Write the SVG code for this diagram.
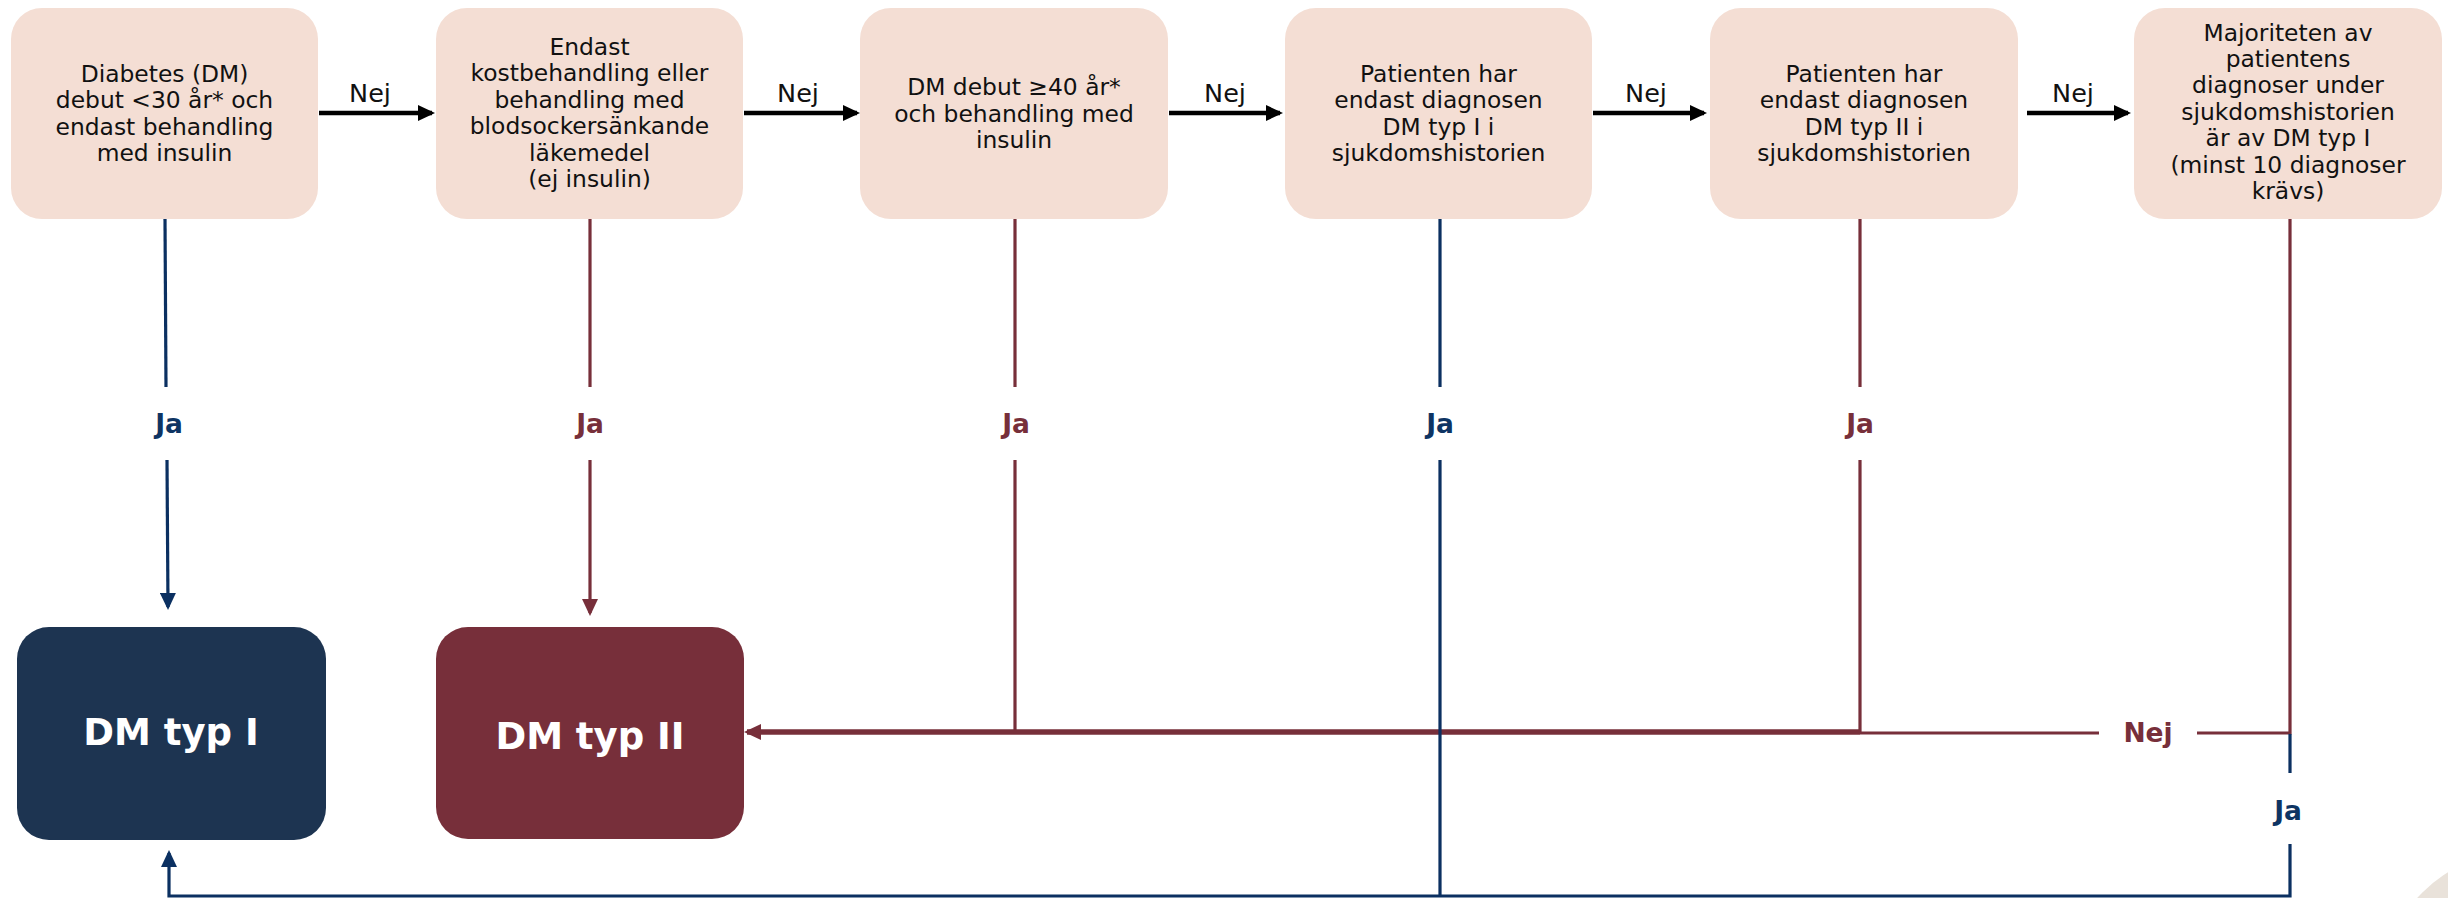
<svg xmlns="http://www.w3.org/2000/svg" width="2448" height="898" viewBox="0 0 2448 898">
<style>
  .q{fill:#F4DED4}
  .qt{font-family:"DejaVu Sans","Verdana",sans-serif;font-size:23.4px;fill:#111;text-anchor:middle}
  .nej{font-family:"DejaVu Sans","Verdana",sans-serif;font-size:25.5px;fill:#111;text-anchor:middle}
  .lbl{font-family:"DejaVu Sans","Verdana",sans-serif;font-size:26.5px;font-weight:bold;text-anchor:middle}
  .big{font-family:"DejaVu Sans","Verdana",sans-serif;font-size:37px;font-weight:bold;fill:#fff;text-anchor:middle}
  .navy{stroke:#0B3061;fill:none;stroke-width:3.2}
  .mar{stroke:#772F3A;fill:none;stroke-width:3.2}
  .blk{stroke:#000;fill:none;stroke-width:4.5}
  .tn{fill:#0E3463}
  .tm{fill:#772F3A}
</style>
<defs>
  <marker id="ab" markerUnits="userSpaceOnUse" markerWidth="18" markerHeight="16" refX="14" refY="8" orient="auto"><path d="M0,0 L17,8 L0,16 z" fill="#000"/></marker>
  <marker id="an" markerUnits="userSpaceOnUse" markerWidth="18" markerHeight="16" refX="14" refY="8" orient="auto"><path d="M0,0 L17,8 L0,16 z" fill="#0B3061"/></marker>
  <marker id="am" markerUnits="userSpaceOnUse" markerWidth="18" markerHeight="16" refX="14" refY="8" orient="auto"><path d="M0,0 L17,8 L0,16 z" fill="#772F3A"/></marker>
</defs>
<rect width="2448" height="898" fill="#fff"/>
<circle cx="2520" cy="990" r="138" fill="#E9E2DA"/>

<g id="connectors">
  <path class="blk" d="M319,113 H432" marker-end="url(#ab)"/>
  <path class="blk" d="M744,113 H857" marker-end="url(#ab)"/>
  <path class="blk" d="M1169,113 H1280" marker-end="url(#ab)"/>
  <path class="blk" d="M1593,113 H1704" marker-end="url(#ab)"/>
  <path class="blk" d="M2027,113 H2128" marker-end="url(#ab)"/>
  <text class="nej" x="370" y="102">Nej</text>
  <text class="nej" x="798" y="102">Nej</text>
  <text class="nej" x="1225" y="102">Nej</text>
  <text class="nej" x="1646" y="102">Nej</text>
  <text class="nej" x="2073" y="102">Nej</text>

  <path class="navy" d="M165,219 L166,387"/>
  <path class="navy" d="M167,460 L168,607" marker-end="url(#an)"/>
  <text class="lbl tn" x="169" y="433">Ja</text>

  <path class="mar" d="M590,219 V387"/>
  <path class="mar" d="M590,460 V613" marker-end="url(#am)"/>
  <text class="lbl tm" x="590" y="433">Ja</text>

  <path class="mar" d="M1015,219 V387"/>
  <path class="mar" d="M1015,460 V732"/>
  <text class="lbl tm" x="1016" y="433">Ja</text>

  <path class="mar" d="M1860,219 V387"/>
  <path class="mar" d="M1860,460 V733"/>
  <text class="lbl tm" x="1860" y="433">Ja</text>

  <path class="mar" d="M2290,219 V733 H2197"/>
  <path class="mar" d="M2099,733 H1860"/>
  <path class="mar" style="stroke-width:5.5" d="M1860,732 H747" marker-end="url(#am)"/>
  <text class="lbl tm" x="2148" y="742">Nej</text>
  <path class="navy" d="M2290,734 V773"/>
  <text class="lbl tn" x="2288" y="820">Ja</text>

  <path class="navy" d="M1440,219 V387"/>
  <path class="navy" d="M1440,460 V896"/>
  <text class="lbl tn" x="1440" y="433">Ja</text>

  <path class="navy" d="M2290,844 V896 H169 V853" marker-end="url(#an)"/>
</g>

<g id="q1">
  <rect class="q" x="11" y="8" width="307" height="211" rx="31"/>
  <text class="qt" x="164.5" y="81.5"><tspan x="164.5">Diabetes (DM)</tspan><tspan x="164.5" dy="26.5">debut &lt;30 år* och</tspan><tspan x="164.5" dy="26.5">endast behandling</tspan><tspan x="164.5" dy="26.5">med insulin</tspan></text>
</g>
<g id="q2">
  <rect class="q" x="436" y="8" width="307" height="211" rx="31"/>
  <text class="qt" x="589.5" y="54.75"><tspan x="589.5">Endast</tspan><tspan x="589.5" dy="26.5">kostbehandling eller</tspan><tspan x="589.5" dy="26.5">behandling med</tspan><tspan x="589.5" dy="26.5">blodsockersänkande</tspan><tspan x="589.5" dy="26.5">läkemedel</tspan><tspan x="589.5" dy="26.5">(ej insulin)</tspan></text>
</g>
<g id="q3">
  <rect class="q" x="860" y="8" width="308" height="211" rx="31"/>
  <text class="qt" x="1014" y="95"><tspan x="1014">DM debut ≥40 år*</tspan><tspan x="1014" dy="26.5">och behandling med</tspan><tspan x="1014" dy="26.5">insulin</tspan></text>
</g>
<g id="q4">
  <rect class="q" x="1285" y="8" width="307" height="211" rx="31"/>
  <text class="qt" x="1438.5" y="81.5"><tspan x="1438.5">Patienten har</tspan><tspan x="1438.5" dy="26.5">endast diagnosen</tspan><tspan x="1438.5" dy="26.5">DM typ I i</tspan><tspan x="1438.5" dy="26.5">sjukdomshistorien</tspan></text>
</g>
<g id="q5">
  <rect class="q" x="1710" y="8" width="308" height="211" rx="31"/>
  <text class="qt" x="1864" y="81.5"><tspan x="1864">Patienten har</tspan><tspan x="1864" dy="26.5">endast diagnosen</tspan><tspan x="1864" dy="26.5">DM typ II i</tspan><tspan x="1864" dy="26.5">sjukdomshistorien</tspan></text>
</g>
<g id="q6">
  <rect class="q" x="2134" y="8" width="308" height="211" rx="31"/>
  <text class="qt" x="2288" y="40.5"><tspan x="2288">Majoriteten av</tspan><tspan x="2288" dy="26.4">patientens</tspan><tspan x="2288" dy="26.4">diagnoser under</tspan><tspan x="2288" dy="26.4">sjukdomshistorien</tspan><tspan x="2288" dy="26.4">är av DM typ I</tspan><tspan x="2288" dy="26.4">(minst 10 diagnoser</tspan><tspan x="2288" dy="26.4">krävs)</tspan></text>
</g>
<g id="typ1">
  <rect x="17" y="627" width="309" height="213" rx="32" fill="#1D3451"/>
  <text class="big" x="171" y="745">DM typ I</text>
</g>
<g id="typ2">
  <rect x="436" y="627" width="308" height="212" rx="32" fill="#772F3A"/>
  <text class="big" x="590" y="749">DM typ II</text>
</g>
</svg>
